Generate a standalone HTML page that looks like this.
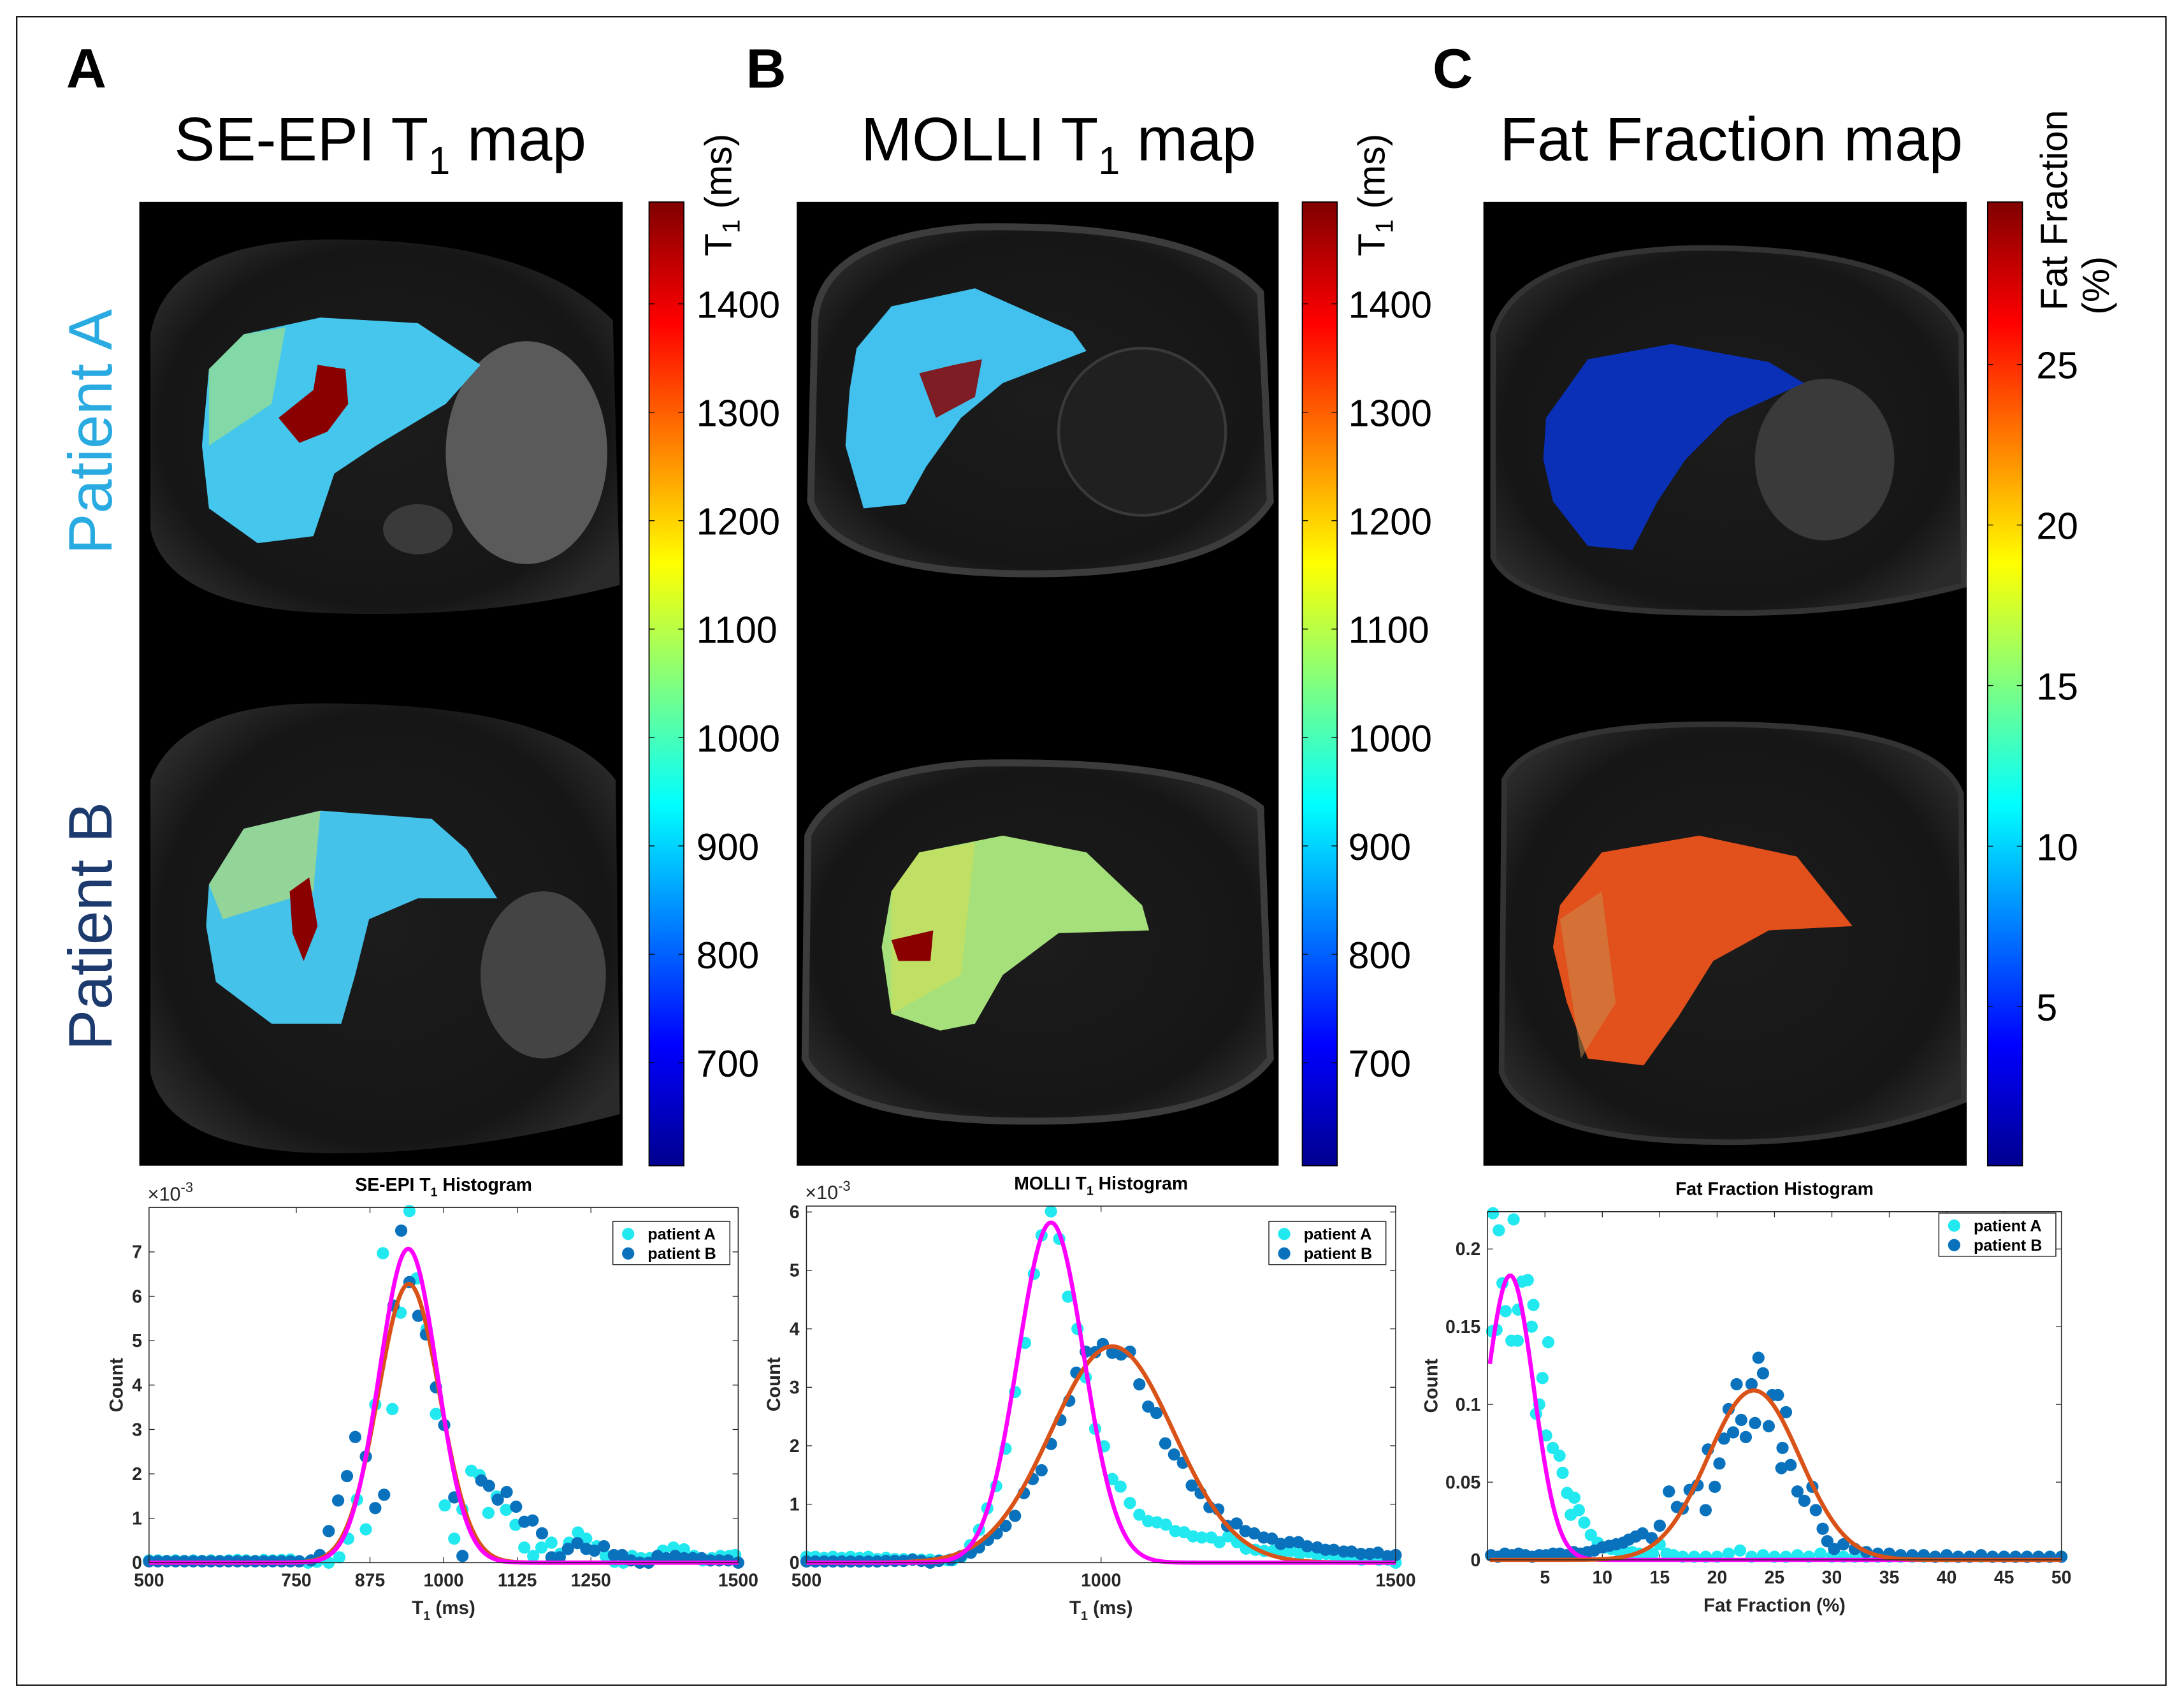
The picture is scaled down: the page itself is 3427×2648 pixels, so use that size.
<!DOCTYPE html>
<html><head><meta charset="utf-8">
<style>
html,body{margin:0;padding:0;background:#fff;}
svg{display:block;}
text{font-family:"Liberation Sans",sans-serif;}
.nar{font-family:"Liberation Sans Narrow","Liberation Sans",sans-serif;font-weight:bold;}
</style></head>
<body>
<svg id="fig" xmlns="http://www.w3.org/2000/svg" width="3427" height="2648" viewBox="0 0 1568 1212" preserveAspectRatio="none">
<defs>
<linearGradient id="jet" x1="0" y1="1" x2="0" y2="0">
<stop offset="0" stop-color="#00008f"/><stop offset="0.125" stop-color="#0000ff"/><stop offset="0.375" stop-color="#00ffff"/><stop offset="0.625" stop-color="#ffff00"/><stop offset="0.875" stop-color="#ff0000"/><stop offset="1" stop-color="#800000"/>
</linearGradient>
<radialGradient id="bodyg" cx="0.5" cy="0.5" r="0.6"><stop offset="0" stop-color="#1c1c1c"/><stop offset="0.8" stop-color="#161616"/><stop offset="1" stop-color="#2a2a2a"/></radialGradient>
</defs>
<rect x="12" y="12" width="1543" height="1198" fill="#fff" stroke="#000" stroke-width="1"/>

<text x="62" y="63" font-size="40" font-weight="bold" text-anchor="middle">A</text>
<text x="550" y="63" font-size="40" font-weight="bold" text-anchor="middle">B</text>
<text x="1043" y="63" font-size="40" font-weight="bold" text-anchor="middle">C</text>
<text x="273" y="115" font-size="44" text-anchor="middle">SE-EPI T<tspan font-size="28" dy="10">1</tspan><tspan dy="-10"> map</tspan></text>
<text x="760" y="115" font-size="44" text-anchor="middle">MOLLI T<tspan font-size="28" dy="10">1</tspan><tspan dy="-10"> map</tspan></text>
<text x="1243" y="115" font-size="44" text-anchor="middle">Fat Fraction map</text>

<text transform="translate(80,310) rotate(-90)" font-size="44" fill="#29abe2" text-anchor="middle">Patient A</text>
<text transform="translate(80,665) rotate(-90)" font-size="44" fill="#1c3a6e" text-anchor="middle">Patient B</text>

<g>
<rect x="100" y="145" width="347" height="692" fill="#000"/>
<path d="M108,240 Q120,175 230,172 Q380,170 440,230 L445,420 Q350,445 230,440 Q120,435 108,380 Z" fill="url(#bodyg)"/>
<ellipse cx="378" cy="325" rx="58" ry="80" fill="#5a5a5a"/>
<ellipse cx="300" cy="380" rx="25" ry="18" fill="#3a3a3a"/>
<path d="M150,265 L175,240 L230,228 L300,232 L345,262 L320,290 L270,320 L240,340 L225,385 L185,390 L150,365 L145,320 Z" fill="#45c6ec"/>
<path d="M150,265 L175,240 L205,235 L195,290 L150,320 Z" fill="#9ee08a" opacity="0.7"/>
<path d="M200,300 L225,280 L228,262 L248,265 L250,290 L235,310 L215,318 Z" fill="#8a0000"/>
<path d="M108,560 Q130,505 230,505 Q400,505 442,560 L445,800 Q330,830 230,828 Q120,825 108,770 Z" fill="url(#bodyg)"/>
<ellipse cx="390" cy="700" rx="45" ry="60" fill="#444"/>
<path d="M150,635 L175,595 L230,582 L310,588 L335,610 L357,645 L300,645 L265,660 L255,700 L245,735 L195,735 L155,705 L148,665 Z" fill="#45c2ea"/>
<path d="M150,635 L175,595 L230,582 L225,640 L160,660 Z" fill="#c8e060" opacity="0.6"/>
<path d="M208,640 L222,630 L228,665 L218,690 L210,670 Z" fill="#8a0000"/>
</g>
<g>
<rect x="572" y="145" width="346" height="692" fill="#000"/>
<path d="M585,230 Q590,170 700,163 Q860,160 905,210 L912,360 Q880,412 740,412 Q600,412 582,360 Z" fill="url(#bodyg)" stroke="#3c3c3c" stroke-width="5"/>
<ellipse cx="820" cy="310" rx="60" ry="60" fill="#202020" stroke="#3a3a3a" stroke-width="2"/>
<path d="M615,250 L640,220 L700,207 L770,238 L780,252 L720,275 L690,300 L665,335 L650,362 L620,365 L607,320 L610,280 Z" fill="#42c0ee"/>
<path d="M660,268 L685,262 L705,258 L700,285 L672,300 Z" fill="#8a0000" opacity="0.85"/>
<path d="M580,600 Q600,555 700,548 Q860,545 905,580 L912,760 Q880,805 740,805 Q600,805 578,760 Z" fill="url(#bodyg)" stroke="#3c3c3c" stroke-width="5"/>
<path d="M640,640 L660,612 L720,600 L780,612 L820,650 L825,668 L760,670 L720,700 L700,735 L675,740 L640,728 L633,680 Z" fill="#a6e07a"/>
<path d="M640,640 L660,612 L700,605 L690,700 L640,728 Z" fill="#d8e050" opacity="0.5"/>
<path d="M640,675 L670,668 L668,690 L645,690 Z" fill="#8a0000"/>
</g>
<g>
<rect x="1065" y="145" width="347" height="692" fill="#000"/>
<path d="M1072,240 Q1090,180 1220,178 Q1380,178 1408,240 L1410,420 Q1330,442 1230,440 Q1090,440 1072,400 Z" fill="url(#bodyg)" stroke="#333" stroke-width="4"/>
<ellipse cx="1310" cy="330" rx="50" ry="58" fill="#3a3a3a"/>
<path d="M1110,300 L1140,258 L1200,247 L1270,260 L1295,275 L1240,300 L1210,330 L1190,360 L1172,395 L1140,392 L1115,360 L1108,330 Z" fill="#0a30b8"/>
<path d="M1080,560 Q1100,520 1230,520 Q1390,520 1408,570 L1410,790 Q1330,822 1230,820 Q1095,818 1078,770 Z" fill="url(#bodyg)" stroke="#333" stroke-width="4"/>
<path d="M1120,650 L1150,612 L1220,600 L1290,615 L1330,665 L1270,668 L1230,690 L1205,730 L1180,765 L1140,760 L1125,720 L1115,680 Z" fill="#e2501c"/>
<path d="M1120,660 L1150,640 L1160,720 L1135,760 Z" fill="#c89050" opacity="0.5"/>
</g>

<g>
<rect x="466" y="145" width="25" height="692" fill="url(#jet)" stroke="#000" stroke-width="0.8"/>
</g>
<g>
<rect x="935" y="145" width="25" height="692" fill="url(#jet)" stroke="#000" stroke-width="0.8"/>
</g>
<g>
<rect x="1427" y="145" width="25" height="692" fill="url(#jet)" stroke="#000" stroke-width="0.8"/>
</g>
<text transform="translate(525,140) rotate(-90)" font-size="27" text-anchor="middle">T<tspan font-size="18" dy="6">1</tspan><tspan dy="-6"> (ms)</tspan></text>
<text transform="translate(994,140) rotate(-90)" font-size="27" text-anchor="middle">T<tspan font-size="18" dy="6">1</tspan><tspan dy="-6"> (ms)</tspan></text>
<text transform="translate(1484,151) rotate(-90)" font-size="27" text-anchor="middle">Fat Fraction</text>
<text transform="translate(1514,205) rotate(-90)" font-size="27" text-anchor="middle">(%)</text>
<g id="cbticks"></g>
<g id="charts"></g>
</svg>
<script>
const t1Ticks = [700, 800, 900, 1000, 1100, 1200, 1300, 1400];
const t1Range = [605, 1494];
const ffTicks = [5, 10, 15, 20, 25];
const ffRange = [0.05, 30.06];

const seEpiA = [[500,0.05],[515,0.05],[530,0.04],[545,0.05],[560,0.04],[575,0.05],[590,0.04],[605,0.05],[620,0.04],[635,0.05],[650,0.06],[665,0.05],[680,0.04],[695,0.06],[710,0.05],[725,0.06],[740,0.07],[755,0.03],[770,0.0],[785,0.02],[805,0.0],[823,0.12],[838,0.54],[853,1.42],[868,0.75],[884,3.56],[897,6.97],[913,3.46],[927,5.63],[942,7.92],[954,6.4],[971,5.26],[987,3.35],[1002,1.29],[1018,0.54],[1032,1.2],[1047,2.07],[1061,1.97],[1076,1.12],[1090,1.49],[1106,1.19],[1122,0.85],[1137,0.34],[1152,0.15],[1166,0.34],[1183,0.45],[1198,0.2],[1213,0.45],[1228,0.68],[1242,0.54],[1260,0.37],[1275,0.15],[1290,0.02],[1305,0.0],[1320,0.15],[1335,0.1],[1350,0.1],[1372,0.27],[1390,0.34],[1408,0.3],[1425,0.15],[1440,0.05],[1455,0.1],[1470,0.15],[1485,0.15],[1495,0.17]];
const seEpiB = [[500,0.03],[515,0.03],[530,0.03],[545,0.03],[560,0.03],[575,0.03],[590,0.03],[605,0.03],[620,0.03],[635,0.03],[650,0.03],[665,0.03],[680,0.03],[695,0.03],[710,0.03],[725,0.03],[740,0.03],[755,0.03],[775,0.05],[790,0.17],[805,0.71],[821,1.4],[836,1.95],[850,2.83],[868,2.39],[884,1.23],[899,1.53],[915,5.79],[928,7.48],[942,6.32],[957,5.56],[970,5.14],[987,3.95],[1001,3.1],[1018,1.47],[1032,0.15],[1064,1.85],[1077,1.73],[1092,1.42],[1107,1.59],[1123,1.26],[1137,0.92],[1151,0.95],[1167,0.66],[1183,0.12],[1197,0.12],[1211,0.31],[1227,0.44],[1242,0.31],[1256,0.27],[1272,0.37],[1289,0.17],[1303,0.17],[1318,0.05],[1333,0.0],[1348,0.0],[1363,0.15],[1378,0.1],[1393,0.15],[1408,0.1],[1423,0.1],[1438,0.1],[1453,0.05],[1468,0.05],[1483,0.05],[1500,0.0]];
const seEpiFitA = [940, 49, 7.07];
const seEpiFitB = [941, 52, 6.28];
const seEpiXTicks = [500, 750, 875, 1000, 1125, 1250, 1500];
const seEpiYTicks = [0, 1, 2, 3, 4, 5, 6, 7];

const molliA = [[500,0.1],[515,0.1],[530,0.08],[545,0.1],[560,0.08],[575,0.1],[590,0.08],[605,0.1],[620,0.06],[635,0.08],[650,0.06],[665,0.06],[680,0.06],[695,0.05],[710,0.05],[725,0.04],[740,0.04],[748,0.04],[763,0.1],[778,0.3],[793,0.56],[807,0.93],[822,1.31],[838,1.95],[854,2.92],[871,3.76],[886,4.94],[899,5.6],[915,6.01],[929,5.54],[944,4.55],[960,4.0],[974,3.17],[990,2.29],[1005,1.99],[1019,1.43],[1033,1.3],[1049,1.02],[1065,0.82],[1080,0.71],[1095,0.69],[1110,0.65],[1126,0.54],[1141,0.52],[1156,0.45],[1171,0.43],[1187,0.43],[1201,0.35],[1216,0.45],[1231,0.35],[1246,0.24],[1262,0.22],[1277,0.2],[1292,0.2],[1307,0.15],[1322,0.2],[1337,0.15],[1352,0.18],[1367,0.12],[1382,0.15],[1397,0.1],[1412,0.1],[1427,0.08],[1442,0.05],[1457,0.08],[1472,0.05],[1487,0.05],[1500,0.0]];
const molliB = [[500,0.02],[515,0.02],[530,0.02],[545,0.02],[560,0.02],[575,0.02],[590,0.02],[605,0.02],[620,0.02],[635,0.03],[650,0.03],[665,0.03],[680,0.05],[695,0.03],[710,0.0],[725,0.03],[745,0.05],[762,0.11],[779,0.17],[793,0.26],[808,0.39],[823,0.5],[838,0.63],[854,0.8],[869,1.19],[884,1.43],[899,1.58],[915,2.03],[931,2.44],[946,2.77],[958,3.25],[974,3.61],[990,3.6],[1003,3.74],[1019,3.59],[1034,3.56],[1049,3.61],[1065,3.05],[1080,2.67],[1094,2.56],[1109,2.04],[1124,1.85],[1139,1.71],[1154,1.32],[1169,1.19],[1184,0.95],[1199,0.91],[1214,0.63],[1230,0.67],[1245,0.54],[1260,0.5],[1276,0.43],[1290,0.41],[1305,0.32],[1320,0.35],[1335,0.35],[1350,0.28],[1367,0.26],[1381,0.22],[1395,0.22],[1412,0.19],[1425,0.19],[1441,0.15],[1456,0.15],[1470,0.17],[1486,0.11],[1500,0.13]];
const molliFitA = [915, 56, 5.82];
const molliFitB = [1019, 104, 3.7];
const molliXTicks = [500, 1000, 1500];
const molliYTicks = [0, 1, 2, 3, 4, 5, 6];

const ffA = [[0.39,0.147],[0.47,0.223],[0.78,0.148],[0.98,0.212],[1.3,0.178],[1.57,0.16],[1.76,0.231],[2.08,0.141],[2.27,0.219],[2.62,0.141],[2.66,0.161],[3.0,0.179],[3.5,0.18],[3.84,0.15],[3.99,0.164],[4.23,0.094],[4.5,0.1],[4.78,0.117],[5.1,0.08],[5.29,0.14],[5.68,0.072],[6.27,0.067],[6.54,0.056],[6.93,0.043],[7.25,0.029],[7.56,0.04],[7.95,0.032],[8.42,0.024],[9.0,0.016],[9.6,0.011],[10.2,0.008],[10.8,0.007],[11.4,0.006],[12.0,0.005],[12.6,0.005],[13.2,0.004],[13.8,0.004],[14.4,0.004],[15.0,0.01],[15.6,0.004],[16.2,0.003],[17,0.002],[18,0.002],[19,0.002],[20,0.002],[21,0.004],[22,0.006],[23,0.002],[24,0.003],[25,0.002],[26,0.002],[27,0.003],[28,0.002],[29,0.004],[30,0.002],[31,0.002],[32,0.002],[33,0.002],[34,0.002],[35,0.002],[36,0.002],[37,0.002],[38,0.002],[39,0.002],[40,0.002],[41,0.002],[42,0.002],[43,0.002],[44,0.002],[45,0.002],[46,0.002],[47,0.002],[48,0.002],[49,0.002],[50,0.002]];
const ffB = [[0.3,0.003],[0.9,0.002],[1.5,0.004],[2.1,0.003],[2.7,0.004],[3.3,0.003],[3.9,0.002],[4.5,0.003],[5.1,0.003],[5.7,0.004],[6.3,0.004],[6.9,0.003],[7.5,0.005],[8.1,0.004],[8.7,0.005],[9.3,0.006],[10,0.008],[10.6,0.009],[11.2,0.01],[11.8,0.011],[12.3,0.013],[12.9,0.015],[13.5,0.017],[14.3,0.014],[15,0.022],[15.8,0.044],[16.5,0.034],[17.0,0.033],[17.6,0.045],[18.3,0.048],[19,0.032],[19.2,0.071],[19.8,0.047],[20.2,0.062],[20.6,0.078],[21,0.097],[21.4,0.082],[21.7,0.113],[22.1,0.09],[22.5,0.079],[23,0.113],[23.3,0.088],[23.6,0.13],[24,0.12],[24.5,0.086],[24.8,0.106],[25.3,0.106],[25.6,0.059],[25.7,0.072],[26,0.095],[26.4,0.061],[27,0.044],[27.6,0.038],[28.3,0.047],[28.6,0.032],[29.2,0.02],[29.6,0.012],[30.2,0.007],[31,0.01],[32,0.007],[33,0.005],[34,0.004],[35,0.004],[36,0.003],[37,0.003],[38,0.003],[39,0.002],[40,0.003],[41,0.002],[42,0.002],[43,0.003],[44,0.002],[45,0.002],[46,0.002],[47,0.002],[48,0.002],[49,0.002],[50,0.002]];
const ffFitA = [1.97, 2.05, 0.183];
const ffFitB = [23.2, 4.0, 0.109];
const ffXTicks = [5, 10, 15, 20, 25, 30, 35, 40, 45, 50];
const ffYTicks = [0, 0.05, 0.1, 0.15, 0.2];
const ffYLabels = ["0", "0.05", "0.1", "0.15", "0.2"];

const NS = "http://www.w3.org/2000/svg";
function mk(tag, attrs, parent, txt) {
  const e = document.createElementNS(NS, tag);
  for (const k in attrs) e.setAttribute(k, attrs[k]);
  if (txt !== undefined) e.textContent = txt;
  parent.appendChild(e);
  return e;
}

const cbg = document.getElementById('cbticks');
function cbScale(v, r) { return 837 - (v - r[0]) / (r[1] - r[0]) * 692; }
[[466, 500], [935, 968]].forEach(function (c) {
  t1Ticks.forEach(function (v) {
    const y = cbScale(v, t1Range);
    const t = mk('text', {x: c[1], y: y + 10, 'font-size': 27}, cbg, String(v));
    
    
    mk('line', {x1: c[0], x2: c[0] + 4, y1: y, y2: y, stroke: '#000', 'stroke-width': 0.6}, cbg);
    mk('line', {x1: c[0] + 25, x2: c[0] + 21, y1: y, y2: y, stroke: '#000', 'stroke-width': 0.6}, cbg);
  });
});
ffTicks.forEach(function (v) {
  const y = cbScale(v, ffRange);
  const t = mk('text', {x: 1462, y: y + 10, 'font-size': 27}, cbg, String(v));
  
  
  mk('line', {x1: 1427, x2: 1431, y1: y, y2: y, stroke: '#000', 'stroke-width': 0.6}, cbg);
  mk('line', {x1: 1452, x2: 1448, y1: y, y2: y, stroke: '#000', 'stroke-width': 0.6}, cbg);
});

const charts = document.getElementById('charts');
function gauss(p, x) { return p[2] * Math.exp(-Math.pow(x - p[0], 2) / (2 * p[1] * p[1])); }

function drawChart(cfg) {
  const g = mk('g', {}, charts);
  
  
  const X = function (v) { return cfg.L + (v - cfg.xmin) / (cfg.xmax - cfg.xmin) * (cfg.R - cfg.L); };
  const Y = function (v) { return cfg.B - (v - cfg.ymin) / (cfg.ymax - cfg.ymin) * (cfg.B - cfg.T); };
  mk('rect', {x: cfg.L, y: cfg.T, width: cfg.R - cfg.L, height: cfg.B - cfg.T, fill: '#fff'}, g);
  cfg.xticks.forEach(function (v) {
    const x = X(v);
    mk('line', {x1: x, x2: x, y1: cfg.B, y2: cfg.B - 4, stroke: '#262626', 'stroke-width': 0.6}, g);
    mk('line', {x1: x, x2: x, y1: cfg.T, y2: cfg.T + 4, stroke: '#262626', 'stroke-width': 0.6}, g);
    const t = mk('text', {x: x, y: cfg.B + 17, 'font-size': 13, 'text-anchor': 'middle', class: 'nar', fill: '#262626'}, g, String(v));
    
    
  });
  cfg.yticks.forEach(function (v, i) {
    const y = Y(v);
    mk('line', {x1: cfg.L, x2: cfg.L + 4, y1: y, y2: y, stroke: '#262626', 'stroke-width': 0.6}, g);
    mk('line', {x1: cfg.R, x2: cfg.R - 4, y1: y, y2: y, stroke: '#262626', 'stroke-width': 0.6}, g);
    const t = mk('text', {x: cfg.L - 5, y: y + 4.5, 'font-size': 13, 'text-anchor': 'end', class: 'nar', fill: '#262626'}, g, cfg.ylabels ? cfg.ylabels[i] : String(v));
    
    
  });
  const dot = function (arr, col, nm) {
    arr.forEach(function (p) {
      if (p[1] > cfg.ymax + 0.02 * (cfg.ymax - cfg.ymin)) return;
      const c = mk('circle', {cx: X(p[0]), cy: Y(p[1]), r: 4.4, fill: col}, g);
      
      
    });
  };
  dot(cfg.a, '#22e8f0', 'point-patient-a');
  dot(cfg.b, '#0a72bd', 'point-patient-b');
  const line = function (p, col, nm) {
    let d = '';
    const x0 = cfg.fitStart !== undefined ? cfg.fitStart : cfg.xmin;
    for (let i = 0; i <= 300; i++) {
      const x = x0 + (cfg.xmax - x0) * i / 300;
      d += (i ? 'L' : 'M') + X(x).toFixed(2) + ',' + Y(gauss(p, x)).toFixed(2);
    }
    const pth = mk('path', {d: d, fill: 'none', stroke: col, 'stroke-width': 3, 'stroke-linejoin': 'round'}, g);
    
    
  };
  if (cfg.magentaFirst) { line(cfg.fa, '#ff00ff', 'fit-patient-a'); line(cfg.fb, '#d95319', 'fit-patient-b'); }
  else { line(cfg.fb, '#d95319', 'fit-patient-b'); line(cfg.fa, '#ff00ff', 'fit-patient-a'); }
  mk('rect', {x: cfg.L, y: cfg.T, width: cfg.R - cfg.L, height: cfg.B - cfg.T, fill: 'none', stroke: '#262626', 'stroke-width': 0.7}, g);
  const tt = mk('text', {x: (cfg.L + cfg.R) / 2, y: cfg.T - 12, 'font-size': 13, 'text-anchor': 'middle', class: 'nar'}, g);
  
  
  tt.innerHTML = cfg.title;
  const xl = mk('text', {x: (cfg.L + cfg.R) / 2, y: cfg.B + 37, 'font-size': 13.5, 'text-anchor': 'middle', class: 'nar', fill: '#262626'}, g);
  
  
  xl.innerHTML = cfg.xlabel;
  const yl = mk('text', {transform: 'translate(' + (cfg.L - cfg.yoff) + ',' + ((cfg.T + cfg.B) / 2) + ') rotate(-90)', 'font-size': 13.5, 'text-anchor': 'middle', class: 'nar', fill: '#262626'}, g, 'Count');
  
  
  if (cfg.exp) {
    const ex = mk('text', {x: cfg.L - 1, y: cfg.T - 5, 'font-size': 14, fill: '#262626'}, g);
    
    
    ex.innerHTML = '×10<tspan font-size="10" dy="-6">-3</tspan>';
  }
  const lg = mk('g', {}, g);
  
  
  mk('rect', {x: cfg.leg[0], y: cfg.leg[1], width: 84, height: 31, fill: '#fff', stroke: '#262626', 'stroke-width': 0.7}, lg);
  mk('circle', {cx: cfg.leg[0] + 11, cy: cfg.leg[1] + 9, r: 4.4, fill: '#22e8f0'}, lg);
  mk('circle', {cx: cfg.leg[0] + 11, cy: cfg.leg[1] + 23, r: 4.4, fill: '#0a72bd'}, lg);
  const la = mk('text', {x: cfg.leg[0] + 25, y: cfg.leg[1] + 13, 'font-size': 11.5, class: 'nar'}, lg, 'patient A');
  
  
  const lb = mk('text', {x: cfg.leg[0] + 25, y: cfg.leg[1] + 27, 'font-size': 11.5, class: 'nar'}, lg, 'patient B');
  
  
}

drawChart({name: 'se-epi-histogram', L: 107, R: 530, T: 867, B: 1122, xmin: 500, xmax: 1500, ymin: 0, ymax: 8, yoff: 19,
  xticks: seEpiXTicks, yticks: seEpiYTicks, a: seEpiA, b: seEpiB, fa: seEpiFitA, fb: seEpiFitB,
  title: 'SE-EPI T<tspan font-size="9" dy="4">1</tspan><tspan dy="-4"> Histogram</tspan>',
  xlabel: 'T<tspan font-size="9" dy="4">1</tspan><tspan dy="-4"> (ms)</tspan>', exp: true, leg: [440, 877]});
drawChart({name: 'molli-histogram', L: 579, R: 1002, T: 866, B: 1122, xmin: 500, xmax: 1500, ymin: 0, ymax: 6.1, yoff: 19,
  xticks: molliXTicks, yticks: molliYTicks, a: molliA, b: molliB, fa: molliFitA, fb: molliFitB,
  title: 'MOLLI T<tspan font-size="9" dy="4">1</tspan><tspan dy="-4"> Histogram</tspan>',
  xlabel: 'T<tspan font-size="9" dy="4">1</tspan><tspan dy="-4"> (ms)</tspan>', exp: true, leg: [911, 877]});
drawChart({name: 'ff-histogram', L: 1068, R: 1480, T: 870, B: 1120, xmin: 0, xmax: 50, ymin: 0, ymax: 0.224, yoff: 36,
  xticks: ffXTicks, yticks: ffYTicks, ylabels: ffYLabels, a: ffA, b: ffB, fa: ffFitA, fb: ffFitB, fitStart: 0.2, magentaFirst: true,
  title: 'Fat Fraction Histogram', xlabel: 'Fat Fraction (%)', exp: false, leg: [1392, 871]});
</script>
</body></html>
